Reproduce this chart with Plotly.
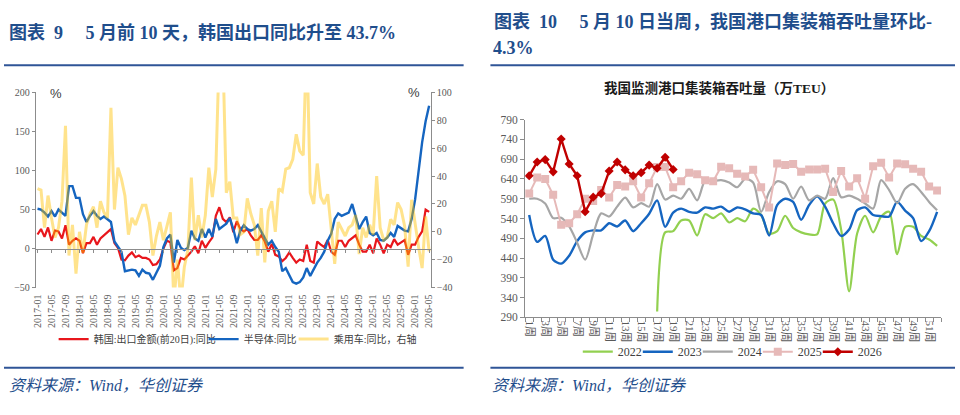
import plotly.graph_objects as go

W, H = 960, 415

# ---------------- Left chart: Korea exports (monthly) ----------------
months = [f"{y}-{m:02d}" for y in range(2017, 2027) for m in range(1, 13)][:113]
month_ticks = months[::4]

korea_export_yoy = [
    18, 25, 15, 27, 10, 23, 22, 13, 30, 5,
    10, 13, 10, -6, 7, 7, 15, 5, 13, 17,
    21, 25, 7, 1, -14, -15, -9, -5, -11, -9,
    -12, -12, -14, -21, -20, -14, 0, 10, 8, -28,
    -25, -12, -14, -9, -4, 3, -6, 10, 1, 8,
    14, 42, 53, 38, 34, 40, 21, 35, 25, 22,
    25, 17, 11, 11, 17, 9, -4, 6, -8, -10,
    -16, -12, -5, -12, -18, -14, -16, 5, -16, -18,
    9, 5, 2, 11, -4, -8, 10, 10, 2, 10,
    14, 17, 5, -4, -4, 5, -6, 13, 5, -6,
    5, 2, 12, 5, 8, 11, -8, 5, 5, 15,
    22, 50, 47]

semiconductor_yoy = [
    51, 50, 46, 41, 48, 41, 50, 46, 42, 80,
    80, 65, 65, 44, 34, 42, 48, 42, 38, 41,
    37, 34, 9, 3, -4, -29, -28, -27, -28, -35,
    -27, -31, -32, -40, -31, -22, 2, 13, 18, -18,
    11, 1, -2, 1, 23, 13, 10, 25, 14, 25,
    15, 38, 25, 28, 32, 39, 25, 7, 23, 30,
    25, 23, 25, 30, 22, 13, 5, 10, 2, -4,
    -29, -25, -35, -43, -45, -43, -37, -25, -35, -27,
    -18, -12, -4, 10, 19, 38, 45, 42, 44, 46,
    57, 42, 25, 34, 41, 20, 17, 20, 11, 10,
    14, 20, 15, 29, 26, 23, 22, 38, 63, 102,
    136, 163, 183]

passenger_car_yoy = [
    31, 30, 3, 26, 10, -4, 3, 22, 76, -17,
    5, -30, 0, -15, 5, 13, 18, 3, 22, 14,
    10, 89, 16, 46, 38, 26, -2, 10, 5, 12,
    19, 19, 7, -17, -3, 7, -6, 4, 14, -50,
    -20, -50, -25, -13, 39, -6, 12, -4, 12, 46,
    25, 45, 130, 130, 28, 36, 10, 10, -2, 0,
    24, 13, 5, -17, 17, -22, 15, 22, 0, 31,
    29, 45, 46, 52, 70, 58, 55, 140, 28, 20,
    49, 25, 20, 27, -1, -23, 7, 2, -3, 3,
    5, 12, -16, 3, -4, 5, -2, 40, 3, -6,
    -4, 9, 5, 21, 16, 4, -25, 23, 5, -11,
    -26, 11, -14]

# ---------------- Right chart: port container throughput (weekly) ----------------
weeks = list(range(1, 53))
week_tick_vals = list(range(1, 53, 2))
week_tick_text = [f"{w}周" for w in week_tick_vals]
week_bounds = [w - 0.5 for w in weeks] + [52.5]

teu_2022 = [None] * 16 + [
    305, 505, 508, 535, 535, 497, 551, 541, 553, 530,
    541, 533, 565, 549, 502, 508, 547, 516, 505, 500,
    500, 578, 588, 512, 356, 502, 547, 505, 545, 557,
    450, 519, 519, 496, 487, 471]
teu_2023 = [
    549, 481, 496, 436, 426, 446, 483, 505, 510, 510,
    528, 520, 535, 508, 528, 552, 586, 519, 555, 565,
    557, 555, 568, 565, 570, 557, 568, 563, 553, 549,
    497, 574, 590, 582, 537, 574, 596, 570, 528, 496,
    512, 561, 568, 549, 546, 545, 582, 560, 541, 483,
    508, 557]
teu_2024 = [
    590, 590, 578, 541, 542, 520, 479, 436, 500, 553,
    545, 570, 593, 568, 579, 570, 627, 588, 598, 590,
    615, 586, 635, 635, 637, 631, 619, 640, 631, 557,
    607, 634, 627, 590, 621, 586, 598, 590, 642, 594,
    598, 590, 578, 565, 637, 612, 579, 615, 627, 607,
    582, 561]
teu_2025 = [
    603, 644, 640, 600, 524, 528, 551, 590, 584, 612,
    593, 625, 621, 634, 593, 629, 670, 670, 619, 634,
    656, 652, 637, 634, 671, 667, 653, 646, 663, 619,
    568, 679, 675, 678, 658, 664, 664, 666, 607, 660,
    621, 642, 590, 672, 681, 644, 679, 677, 666, 658,
    621, 611]
teu_2026 = [
    648, 683, 689, 658, 741, 678, 648, 557, 594, 603,
    660, 683, 663, 648, 656, 675, 667, 695, 664]


def fx(px):
    return px / W


def fy(py):
    return 1 - py / H


SERIF = "Liberation Serif, 'Noto Sans CJK SC', serif"
TITLE_BLUE = "#1F4E8C"
AXIS_GREY = "#8C8C8C"
TICK_GREY = "#595959"

# left plot area (pixels)
LX0, LX1, LY0, LY1 = 32, 430, 89, 290
# right plot area (pixels)
RX0, RX1, RY0, RY1 = 525, 944, 117, 320.7

zero_y_px = LY0 + (LY1 - LY0) * (200 / 250)

fig = go.Figure()

fig.add_trace(go.Scatter(
    x=months, y=korea_export_yoy, name="韩国:出口金额(前20日):同比",
    mode="lines", line=dict(color="#E8161C", width=2.2),
    xaxis="x", yaxis="y", legend="legend", legendwidth=105))
fig.add_trace(go.Scatter(
    x=months, y=semiconductor_yoy, name="半导体:同比",
    mode="lines", line=dict(color="#1565C0", width=2.4),
    xaxis="x", yaxis="y", legend="legend", legendwidth=45))
fig.add_trace(go.Scatter(
    x=months, y=passenger_car_yoy, name="乘用车:同比，右轴",
    mode="lines", line=dict(color="rgba(255,192,0,0.45)", width=3),
    xaxis="x", yaxis="y2", legend="legend", legendwidth=85))

fig.add_trace(go.Scatter(
    x=weeks, y=teu_2022, name="2022", mode="lines",
    line=dict(color="#92D050", width=2.2, shape="spline", smoothing=0.8),
    xaxis="x2", yaxis="y3", legend="legend2", legendwidth=15))
fig.add_trace(go.Scatter(
    x=weeks, y=teu_2023, name="2023", mode="lines",
    line=dict(color="#1565C0", width=2.4, shape="spline", smoothing=0.8),
    xaxis="x2", yaxis="y3", legend="legend2", legendwidth=15))
fig.add_trace(go.Scatter(
    x=weeks, y=teu_2024, name="2024", mode="lines",
    line=dict(color="#A6A6A6", width=2.2, shape="spline", smoothing=0.8),
    xaxis="x2", yaxis="y3", legend="legend2", legendwidth=15))
fig.add_trace(go.Scatter(
    x=weeks, y=teu_2025, name="2025", mode="lines+markers",
    line=dict(color="#E6B9B8", width=2),
    marker=dict(symbol="square", size=8, color="#E6B9B8"),
    xaxis="x2", yaxis="y3", legend="legend2", legendwidth=15))
fig.add_trace(go.Scatter(
    x=weeks[:len(teu_2026)], y=teu_2026, name="2026", mode="lines+markers",
    line=dict(color="#C00000", width=2.4),
    marker=dict(symbol="diamond", size=7, color="#C00000"),
    xaxis="x2", yaxis="y3", legend="legend2", legendwidth=32))

tickfont_small = dict(family=SERIF, size=10, color=TICK_GREY)

fig.update_layout(
    width=W, height=H,
    margin=dict(l=0, r=0, t=0, b=0),
    paper_bgcolor="white", plot_bgcolor="rgba(0,0,0,0)",
    showlegend=True,
    xaxis=dict(
        domain=[fx(LX0), fx(LX1)], type="category", range=[-0.5, 112.5],
        anchor="free", position=fy(zero_y_px),
        showline=True, linecolor=AXIS_GREY, linewidth=1,
        ticks="outside", ticklen=3, tickcolor=AXIS_GREY,
        tickmode="array", tickvals=month_ticks, ticktext=month_ticks,
        tickangle=-90, ticklabelstandoff=38,
        tickfont=tickfont_small, showgrid=False, zeroline=False),
    yaxis=dict(
        domain=[fy(LY1), fy(LY0)], range=[-50, 200], anchor="x",
        tickmode="array", tickvals=[-50, 0, 50, 100, 150, 200],
        showline=True, linecolor=AXIS_GREY, ticks="outside", ticklen=3,
        tickcolor=AXIS_GREY, tickfont=tickfont_small,
        showgrid=False, zeroline=False),
    yaxis2=dict(
        overlaying="y", side="right", anchor="x", range=[-40, 100],
        tickmode="array", tickvals=[-40, -20, 0, 20, 40, 60, 80, 100],
        showline=True, linecolor=AXIS_GREY, ticks="outside", ticklen=3,
        tickcolor=AXIS_GREY, tickfont=tickfont_small,
        showgrid=False, zeroline=False),
    xaxis2=dict(
        domain=[fx(RX0), fx(RX1)], anchor="y3", range=[0.5, 52.5],
        tickmode="array", tickvals=week_tick_vals, ticktext=week_tick_text,
        tickangle=90, ticks="",
        minor=dict(tickmode="array", tickvals=week_bounds, ticks="outside",
                   ticklen=4, tickcolor=AXIS_GREY),
        showline=True, linecolor=AXIS_GREY,
        tickfont=dict(family=SERIF, size=11, color=TICK_GREY),
        showgrid=False, zeroline=False),
    yaxis3=dict(
        domain=[fy(RY1), fy(RY0)], anchor="x2", range=[290, 790],
        tickmode="array", tickvals=list(range(290, 791, 50)),
        showline=True, linecolor=AXIS_GREY, ticks="outside", ticklen=4,
        tickcolor=AXIS_GREY,
        tickfont=dict(family=SERIF, size=11.5, color=TICK_GREY),
        showgrid=False, zeroline=False),
    legend=dict(
        orientation="h", x=fx(50), xanchor="left", y=fy(343), yanchor="middle",
        font=dict(family=SERIF, size=10, color="#404040"),
        bgcolor="rgba(0,0,0,0)", itemwidth=30),
    legend2=dict(
        orientation="h", x=fx(578), xanchor="left", y=fy(356), yanchor="middle",
        font=dict(family=SERIF, size=12, color="#404040"),
        bgcolor="rgba(0,0,0,0)", itemwidth=30),
)

NB = "\u00a0"
annotations = [
    dict(x=fx(3), y=fy(27), xanchor="left", yanchor="middle",
         text=f"<b>图表{NB*2}9{NB*5}5{NB}月前{NB}10{NB}天，韩国出口同比升至{NB}43.7%</b>",
         font=dict(family=SERIF, size=18, color=TITLE_BLUE)),
    dict(x=fx(492), y=fy(16), xanchor="left", yanchor="middle",
         text=f"<b>图表{NB*2}10{NB*5}5{NB}月{NB}10{NB}日当周，我国港口集装箱吞吐量环比-</b>",
         font=dict(family=SERIF, size=18, color=TITLE_BLUE)),
    dict(x=fx(491), y=fy(43), xanchor="left", yanchor="middle",
         text="<b>4.3%</b>",
         font=dict(family=SERIF, size=18, color=TITLE_BLUE)),
    dict(x=fx(720), y=fy(84), xanchor="center", yanchor="middle",
         text="<b>我国监测港口集装箱吞吐量（万TEU）</b>",
         font=dict(family=SERIF, size=13.5, color="#1a1a1a")),
    dict(x=fx(52), y=fy(90), xanchor="center", yanchor="middle", text="%",
         font=dict(family="Liberation Sans, sans-serif", size=13, color="#404040")),
    dict(x=fx(413), y=fy(89), xanchor="center", yanchor="middle", text="%",
         font=dict(family="Liberation Sans, sans-serif", size=13, color="#404040")),
    dict(x=fx(3), y=fy(391), xanchor="left", yanchor="middle",
         text="<i>资料来源：Wind，华创证券</i>",
         font=dict(family=SERIF, size=16, color=TITLE_BLUE)),
    dict(x=fx(490), y=fy(391), xanchor="left", yanchor="middle",
         text="<i>资料来源：Wind，华创证券</i>",
         font=dict(family=SERIF, size=16, color=TITLE_BLUE)),
]
for a in annotations:
    a.update(xref="paper", yref="paper", showarrow=False)
fig.update_layout(annotations=annotations)

RULE = "#2F5597"
shapes = []
for (x0, x1) in [(0, 463), (490, 958)]:
    for yy in (61, 372.5):
        shapes.append(dict(type="line", xref="paper", yref="paper",
                           x0=fx(x0), x1=fx(x1), y0=fy(yy), y1=fy(yy),
                           line=dict(color=RULE, width=2)))
fig.update_layout(shapes=shapes)

fig.write_html("out.html")
